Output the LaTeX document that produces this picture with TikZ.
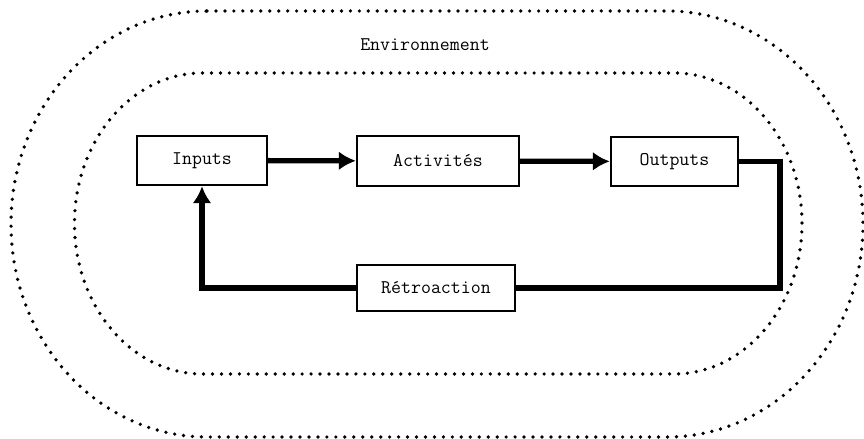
\documentclass[tikz,border=0pt]{standalone}
\usetikzlibrary{arrows.meta}

\begin{document}
\begin{tikzpicture}[
    bloc/.style={draw, line width=1.4pt, minimum height=0.98cm, inner sep=0pt,
      font=\fontsize{11}{13}\selectfont\ttfamily},
    flow/.style={line width=3pt},
    pointe/.style={-{Latex[length=0.34cm,width=0.38cm]}},
    pointille/.style={line width=2.1pt, line cap=round, dash pattern=on 0pt off 5.1pt}
  ]
  \useasboundingbox (0,0) rectangle (17.28,8.78);
  % les deux enveloppes
  \draw[pointille] (4.14,8.56) -- (13.34,8.56) arc[start angle=90,end angle=-90,x radius=3.92,y radius=4.26]
    -- (4.14,0.04) arc[start angle=270,end angle=90,x radius=3.92,y radius=4.26] -- cycle;
  \draw[pointille] (4.05,7.32) -- (13.48,7.32) arc[start angle=90,end angle=-90,x radius=2.56,y radius=3.01]
    -- (4.05,1.30) arc[start angle=270,end angle=90,x radius=2.56,y radius=3.01] -- cycle;
  \node[font=\fontsize{11}{13}\selectfont\ttfamily] (env) at (8.5,7.88) {Environnement};
  % les blocs
  \node[bloc, minimum width=2.6cm] (in) at (4.04,5.57) {Inputs};
  \node[bloc, minimum width=3.24cm, minimum height=1cm] (act) at (8.76,5.56) {Activités};
  \node[bloc, minimum width=2.54cm] (out) at (13.49,5.55) {Outputs};
  \node[bloc, minimum width=3.16cm, minimum height=0.92cm] (retro) at (8.72,3.02) {Rétroaction};
  % les liaisons
  \draw[flow, pointe] (in) -- (act);
  \draw[flow, pointe] (act) -- (out);
  \draw[flow] (out.east) -- (15.6,5.55) |- (retro.east);
  \draw[flow, pointe] (retro.west) -| (in.south);
\end{tikzpicture}
\end{document}
